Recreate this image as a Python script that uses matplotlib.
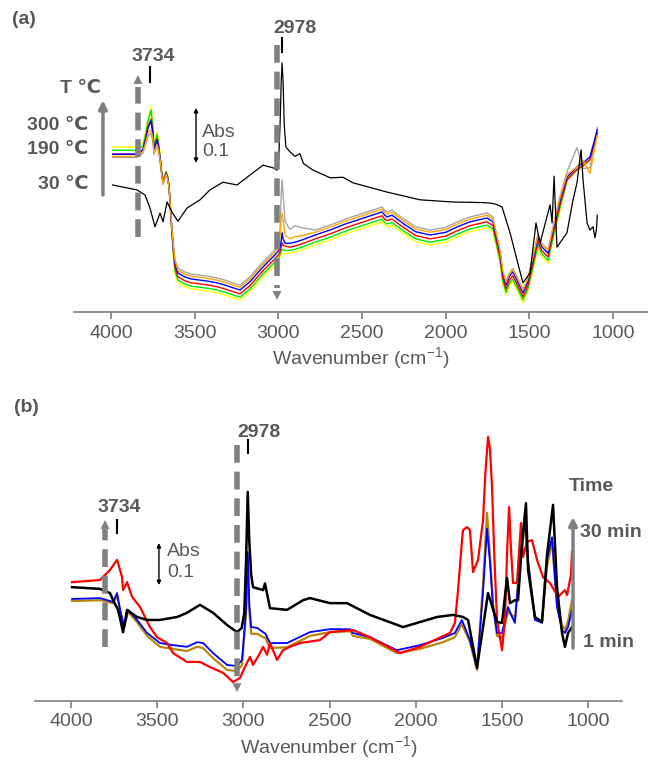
import matplotlib
matplotlib.use("Agg")
import matplotlib.pyplot as plt

plt.rcParams['font.family'] = ['Liberation Sans', 'DejaVu Sans']
plt.rcParams['mathtext.fontset'] = 'custom'
plt.rcParams['mathtext.rm'] = 'Liberation Sans'

GRIS = '#595959'

# ---------- Panel (a): espectros frente a temperatura ----------
wn_a = [3990, 3900, 3845, 3809, 3790, 3779, 3761, 3750, 3743, 3733, 3725, 3716,
        3707, 3698, 3689, 3680, 3671, 3662, 3653, 3645, 3636, 3627, 3618, 3600,
        3560, 3520, 3468, 3420, 3367, 3320, 3271, 3229, 3170, 3110, 3060, 3026,
        2998, 2990, 2983, 2978, 2972, 2960, 2931, 2900, 2859, 2780, 2692, 2600,
        2500, 2420, 2381, 2365, 2351, 2321, 2250, 2180, 2094, 2000, 1930, 1855,
        1754, 1718, 1700, 1676, 1660, 1640, 1620, 1600, 1575, 1539, 1510, 1479,
        1449, 1437, 1425, 1389, 1359, 1320, 1276, 1216, 1180, 1139, 1095]

abs_gris = [.281, .281, .281, .289, .308, .320, .325, .310, .287, .295, .301, .292,
            .276, .252, .232, .241, .248, .242, .227, .191, .152, .120, .095, .080,
            .073, .069, .067, .065, .062, .058, .053, .049, .064, .085, .101, .111,
            .124, .150, .215, .240, .215, .165, .150, .157, .153, .149, .158, .169,
            .179, .187, .191, .185, .182, .185, .169, .155, .149, .154, .164, .173,
            .180, .173, .146, .113, .076, .055, .071, .079, .064, .041, .061, .101,
            .142, .132, .124, .113, .155, .208, .255, .299, .261, .262, .336]
abs_naranja = [.283, .283, .283, .291, .311, .325, .332, .315, .289, .297, .304, .294,
               .277, .253, .233, .243, .251, .243, .225, .190, .151, .119, .094, .076,
               .069, .065, .063, .061, .058, .054, .049, .045, .060, .081, .097, .107,
               .118, .140, .170, .180, .168, .140, .133, .137, .139, .145, .154, .165,
               .175, .183, .187, .181, .178, .181, .165, .151, .145, .150, .160, .169,
               .176, .169, .145, .112, .075, .054, .070, .078, .063, .040, .060, .100,
               .141, .131, .123, .112, .154, .205, .250, .264, .276, .252, .321]
abs_azul = [.287, .287, .287, .295, .318, .335, .347, .325, .295, .305, .313, .300,
            .280, .255, .235, .245, .253, .245, .227, .190, .149, .115, .089, .071,
            .064, .060, .058, .056, .053, .049, .044, .040, .055, .076, .092, .102,
            .112, .118, .130, .144, .133, .125, .125, .127, .131, .140, .149, .160,
            .170, .178, .182, .176, .173, .176, .160, .146, .140, .145, .155, .164,
            .171, .164, .140, .107, .070, .049, .065, .073, .058, .035, .055, .095,
            .136, .126, .118, .107, .149, .200, .245, .264, .271, .282, .331]
abs_rojo = [.287, .287, .287, .295, .319, .337, .351, .327, .295, .306, .315, .301,
            .280, .255, .235, .245, .253, .245, .227, .188, .146, .110, .082, .064,
            .057, .053, .051, .049, .046, .042, .037, .033, .048, .069, .085, .095,
            .105, .110, .118, .126, .121, .120, .118, .120, .124, .133, .142, .153,
            .163, .171, .175, .169, .166, .169, .153, .139, .133, .138, .148, .157,
            .164, .157, .133, .100, .063, .042, .058, .066, .051, .028, .048, .088,
            .129, .119, .111, .100, .142, .193, .240, .259, .266, .277, .326]
abs_verde = [.294, .294, .294, .302, .327, .347, .367, .339, .301, .313, .323, .307,
             .284, .257, .237, .247, .255, .247, .229, .188, .144, .106, .076, .058,
             .051, .047, .045, .043, .040, .036, .031, .027, .042, .063, .079, .089,
             .099, .105, .110, .114, .113, .112, .112, .114, .118, .127, .136, .147,
             .157, .165, .169, .163, .160, .163, .147, .133, .127, .132, .142, .151,
             .158, .151, .127, .094, .057, .036, .052, .060, .045, .022, .042, .082,
             .123, .113, .105, .094, .136, .187, .240, .259, .266, .277, .326]
abs_amarillo = [.300, .300, .300, .308, .333, .353, .373, .343, .304, .317, .327, .310,
                .286, .258, .238, .248, .256, .248, .230, .188, .142, .103, .071, .053,
                .046, .042, .040, .038, .035, .031, .026, .022, .037, .058, .074, .084,
                .094, .100, .103, .106, .106, .107, .107, .109, .113, .122, .131, .142,
                .152, .160, .164, .158, .155, .158, .142, .128, .122, .127, .137, .146,
                .153, .146, .122, .089, .052, .031, .047, .055, .040, .017, .037, .077,
                .118, .108, .100, .089, .131, .182, .239, .258, .265, .276, .325]

wn_a30 = [3990, 3845, 3797, 3767, 3737, 3707, 3689, 3665, 3636, 3600, 3546, 3468,
          3409, 3331, 3247, 3170, 3092, 3030, 3008, 2998, 2990, 2983, 2978, 2972,
          2965, 2955, 2930, 2900, 2872, 2850, 2793, 2690, 2614, 2555, 2350, 2154,
          1957, 1780, 1736, 1700, 1664, 1616, 1575, 1539, 1497, 1461, 1437, 1377,
          1365, 1353, 1336, 1276, 1240, 1216, 1192, 1180, 1156, 1139, 1120, 1109,
          1100, 1095]
abs_a30 = [.231, .222, .213, .189, .155, .180, .164, .200, .182, .165, .189, .204,
           .222, .236, .231, .249, .267, .262, .258, .280, .340, .420, .453, .420,
           .340, .300, .291, .283, .288, .270, .258, .244, .245, .235, .218, .204,
           .200, .199, .198, .196, .191, .144, .095, .053, .071, .162, .125, .195,
           .162, .247, .118, .144, .204, .235, .295, .240, .162, .149, .155, .135,
           .150, .176]

# ---------- Panel (b): espectros frente al tiempo ----------
wn_b = [3994, 3832, 3756, 3733, 3715, 3692, 3669, 3617, 3559, 3484, 3408, 3327,
        3269, 3234, 3176, 3095, 3037, 3008, 2985, 2975, 2966, 2955, 2920, 2886,
        2872, 2846, 2747, 2614, 2498, 2380, 2365, 2266, 2110, 1976, 1843, 1773,
        1733, 1686, 1645, 1610, 1587, 1570, 1552, 1529, 1500, 1465, 1442, 1425,
        1396, 1367, 1349, 1309, 1268, 1239, 1210, 1181, 1152, 1135, 1117, 1094]
abs_b_azul = [.243, .245, .236, .257, .217, .176, .217, .193, .162, .138, .133, .129,
              .140, .138, .114, .086, .083, .098, .217, .355, .230, .176, .174, .164,
              .160, .138, .138, .164, .171, .171, .162, .152, .121, .133, .150, .162,
              .193, .145, .079, .260, .410, .330, .224, .162, .162, .224, .200, .186,
              .336, .431, .336, .193, .186, .336, .390, .224, .169, .162, .176, .217]
abs_b_oro = [.238, .240, .233, .250, .214, .176, .212, .188, .155, .129, .124, .119,
             .129, .126, .102, .074, .071, .086, .205, .340, .215, .160, .160, .152,
             .150, .126, .128, .155, .164, .166, .155, .148, .114, .124, .140, .152,
             .183, .140, .074, .280, .448, .350, .230, .155, .150, .212, .205, .195,
             .330, .420, .330, .198, .190, .320, .380, .230, .180, .170, .190, .240]

wn_b_rojo = [3994, 3832, 3774, 3733, 3704, 3698, 3675, 3646, 3600, 3542, 3501, 3443,
             3408, 3327, 3252, 3194, 3118, 3060, 3020, 2991, 2962, 2944, 2904, 2886,
             2863, 2846, 2805, 2770, 2730, 2672, 2556, 2498, 2364, 2266, 2092, 1976,
             1802, 1773, 1755, 1732, 1726, 1703, 1686, 1668, 1639, 1610, 1597, 1581,
             1570, 1558, 1545, 1529, 1500, 1483, 1470, 1459, 1448, 1436, 1413, 1390,
             1378, 1355, 1326, 1297, 1262, 1222, 1175, 1135, 1123, 1100, 1094]
abs_b_rojo = [.283, .288, .312, .336, .295, .264, .283, .248, .224, .176, .152, .138,
              .114, .093, .093, .081, .067, .045, .055, .081, .105, .086, .114, .129,
              .110, .138, .098, .121, .129, .138, .145, .164, .169, .152, .114, .129,
              .162, .186, .264, .383, .407, .414, .407, .307, .336, .431, .540, .629,
              .600, .510, .350, .193, .121, .193, .360, .462, .360, .281, .281, .424,
              .343, .379, .383, .336, .295, .281, .248, .264, .252, .300, .355]

wn_b_negro = [3994, 3832, 3774, 3756, 3727, 3698, 3675, 3617, 3559, 3484, 3385, 3327,
              3252, 3176, 3095, 3037, 3010, 2995, 2985, 2975, 2966, 2955, 2944, 2886,
              2875, 2846, 2747, 2654, 2614, 2498, 2399, 2266, 2074, 1877, 1784, 1726,
              1697, 1645, 1610, 1581, 1529, 1500, 1471, 1454, 1425, 1407, 1384, 1361,
              1349, 1309, 1268, 1239, 1204, 1181, 1152, 1135, 1117, 1094]
abs_b_negro = [.271, .267, .257, .240, .217, .164, .217, .200, .193, .193, .200, .210,
               .229, .210, .181, .164, .174, .210, .330, .498, .380, .300, .271, .264,
               .280, .221, .217, .240, .245, .233, .233, .205, .176, .200, .205, .200,
               .193, .079, .176, .257, .188, .186, .293, .233, .240, .240, .376, .471,
               .312, .200, .188, .348, .467, .271, .162, .129, .162, .176]

ticks_x = [4000, 3500, 3000, 2500, 2000, 1500, 1000]

W, H = 648, 763
fig = plt.figure(figsize=(W / 100, H / 100), dpi=100)


def caja(x0, x1, y_bottom, y_top):
    return [x0 / W, 1 - y_bottom / H, (x1 - x0) / W, (y_bottom - y_top) / H]


def estilo_eje(ax, xlim, ylim):
    ax.set_xlim(*xlim)
    ax.set_ylim(*ylim)
    for lado in ['top', 'right', 'left']:
        ax.spines[lado].set_visible(False)
    ax.spines['bottom'].set_color('#7f7f7f')
    ax.spines['bottom'].set_linewidth(1.2)
    ax.set_yticks([])
    ax.set_xticks(ticks_x)
    ax.tick_params(axis='x', direction='out', length=5, width=1.2, color='#7f7f7f',
                   labelcolor=GRIS, labelsize=14, pad=4)
    ax.set_xlabel('Wavenumber (cm$^{-1}$)', fontsize=14, color=GRIS, labelpad=3)


def flecha_discontinua(ax, x, y0, y1):
    # linea discontinua gruesa con punta triangular
    d = 0.022 if y1 > y0 else -0.022
    ax.plot([x, x], [y0, y1 - d], color='#808080', lw=4, dashes=(3.2, 1.6), clip_on=False)
    ax.annotate('', xy=(x, y1), xytext=(x, y1 - d), annotation_clip=False,
                arrowprops=dict(arrowstyle='-|>', color='#808080', lw=0,
                                mutation_scale=16, shrinkA=0, shrinkB=0))


def barra_abs(ax, x, y0, y1, xt, yabs, y01):
    ax.annotate('', xy=(x, y1), xytext=(x, y0), annotation_clip=False,
                arrowprops=dict(arrowstyle='<|-|>', color='black', lw=1,
                                mutation_scale=6, shrinkA=0, shrinkB=0))
    ax.text(xt, yabs, 'Abs', fontsize=14, color=GRIS, ha='left', va='center')
    ax.text(xt, y01, '0.1', fontsize=14, color=GRIS, ha='left', va='center')


def etiqueta_pico(ax, x, y0, y1, texto, xt, yt):
    ax.plot([x, x], [y0, y1], color='black', lw=1.5, clip_on=False)
    ax.text(xt, yt, texto, fontsize=14, fontweight='bold', color=GRIS,
            ha='center', va='center')


# ---- (a) ----
ax1 = fig.add_axes(caja(74, 648, 312, 20))
estilo_eje(ax1, (4221, 792), (0, 0.531))
series_a = [(abs_gris, '#a6a6a6'), (abs_amarillo, '#ffff00'), (abs_verde, '#00e600'),
            (abs_rojo, '#ff0000'), (abs_azul, '#0000ff'), (abs_naranja, '#ffa500')]
for ys, c in series_a:
    ax1.plot(wn_a, ys, color=c, lw=1.0)
ax1.plot(wn_a30, abs_a30, color='black', lw=0.9)

flecha_discontinua(ax1, 3839, 0.136, 0.431)
flecha_discontinua(ax1, 3008, 0.485, 0.022)
etiqueta_pico(ax1, 2978, 0.473, 0.498, '2978', 2900, 0.516)
etiqueta_pico(ax1, 3768, 0.418, 0.445, '3734', 3750, 0.464)
barra_abs(ax1, 3492, 0.271, 0.371, 3456, 0.327, 0.291)

ax1.annotate('', xy=(4048, 0.385), xytext=(4048, 0.213), annotation_clip=False,
             arrowprops=dict(arrowstyle='-|>', color='#808080', lw=2.5,
                             mutation_scale=12, shrinkA=0, shrinkB=0))
ax1.text(4185, 0.407, 'T ℃', fontsize=14, fontweight='bold', color=GRIS,
         ha='center', va='center')
for etiqueta, y in [('300 ℃', 0.340), ('190 ℃', 0.295), ('30 ℃', 0.231)]:
    ax1.text(4135, y, etiqueta, fontsize=14, fontweight='bold', color=GRIS,
             ha='right', va='center')
fig.text(12 / W, 1 - 20 / H, '(a)', fontsize=14, fontweight='bold', color=GRIS,
         ha='left', va='center')

# ---- (b) ----
ax2 = fig.add_axes(caja(35, 622, 701, 428))
estilo_eje(ax2, (4209, 804), (0, 0.65))
ax2.plot(wn_b, abs_b_oro, color='#b8860b', lw=1.6)
ax2.plot(wn_b, abs_b_azul, color='#0000ff', lw=1.3)
ax2.plot(wn_b_rojo, abs_b_rojo, color='#ff0000', lw=1.6)
ax2.plot(wn_b_negro, abs_b_negro, color='black', lw=1.8)

flecha_discontinua(ax2, 3803, 0.129, 0.431)
flecha_discontinua(ax2, 3037, 0.610, 0.021)
etiqueta_pico(ax2, 2975, 0.590, 0.621, '2978', 2910, 0.640)
etiqueta_pico(ax2, 3733, 0.400, 0.431, '3734', 3722, 0.460)
barra_abs(ax2, 3490, 0.276, 0.376, 3443, 0.357, 0.305)

ax2.annotate('', xy=(1088, 0.438), xytext=(1088, 0.126), annotation_clip=False,
             arrowprops=dict(arrowstyle='-|>', color='#808080', lw=2.5,
                             mutation_scale=12, shrinkA=0, shrinkB=0))
ax2.text(984, 0.510, 'Time', fontsize=14, fontweight='bold', color=GRIS,
         ha='center', va='center')
ax2.text(1048, 0.402, '30 min', fontsize=14, fontweight='bold', color=GRIS,
         ha='left', va='center')
ax2.text(1030, 0.140, '1 min', fontsize=14, fontweight='bold', color=GRIS,
         ha='left', va='center')
fig.text(14 / W, 1 - 408 / H, '(b)', fontsize=14, fontweight='bold', color=GRIS,
         ha='left', va='center')

fig.savefig('out.png', dpi=100)
